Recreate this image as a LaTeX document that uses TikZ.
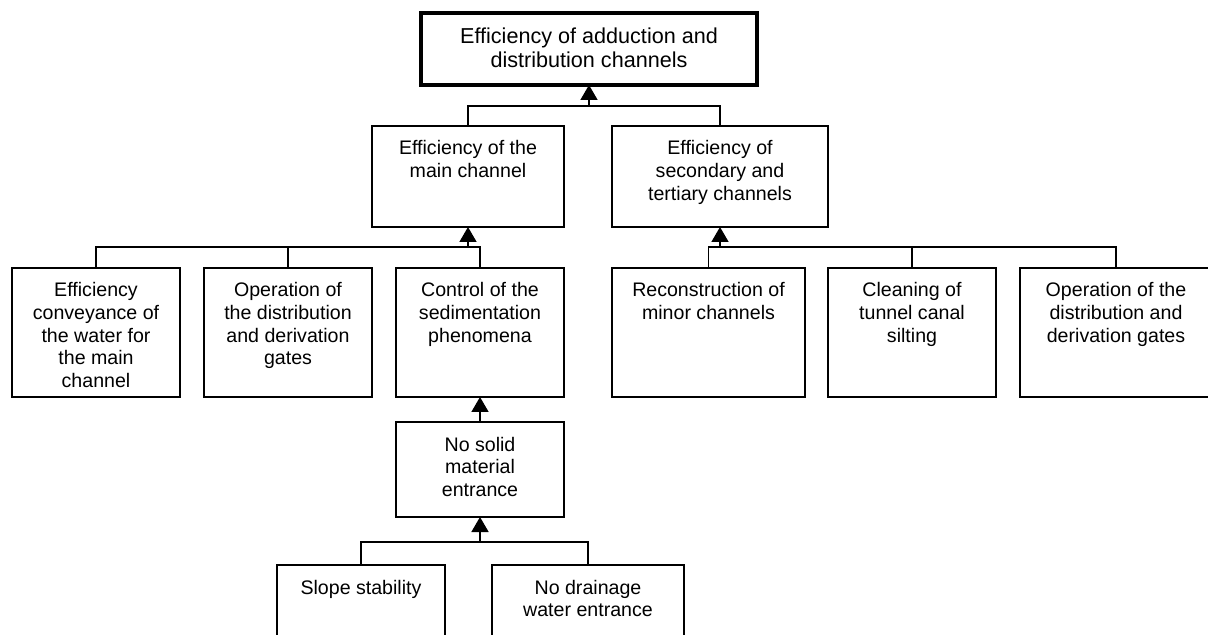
\documentclass[tikz,border=0pt]{standalone}
\usepackage{fontspec}
\setmainfont{Liberation Sans}
\usetikzlibrary{arrows.meta,positioning}

\newcommand{\boxtext}[3]{\parbox[c][#2][t]{#1}{\centering\rule{0pt}{14.5pt}#3}}

\begin{document}
\begin{tikzpicture}[x=0.5pt,y=-0.5pt,line width=0.8pt]
			\tikzstyle{myboxstyle} = [draw, anchor=north, inner sep=0pt, outer sep=0pt, font=\fontsize{9.8}{11.3}\selectfont]
			\tikzstyle{myedgestyle} = [-{Triangle[width=8.5pt,length=7.5pt]}]
			
			\useasboundingbox (0,0) rectangle (1208,635);
			\clip (0,0) rectangle (1208,635);
			
			\node [myboxstyle, line width=1.7pt, font=\fontsize{10.8}{11.8}\selectfont] (T) at (589,13) {\boxtext{168pt}{36pt}{\rule{0pt}{15.5pt}Efficiency of adduction and\\distribution channels}};
			
			\node [myboxstyle] (M) at (468,126) {\boxtext{96pt}{50.5pt}{Efficiency of the\\main channel}};
			\node [myboxstyle] (S) at (720,126) {\boxtext{108pt}{50.5pt}{Efficiency of\\secondary and\\tertiary channels}};
			
			\node [myboxstyle] (E1) at (96,268) {\boxtext{84pt}{64.5pt}{Efficiency\\conveyance of\\the water for\\the main\\channel}};
			\node [myboxstyle] (E2) at (288,268) {\boxtext{84pt}{64.5pt}{Operation of\\the distribution\\and derivation\\gates}};
			\node [myboxstyle] (E3) at (480,268) {\boxtext{84pt}{64.5pt}{Control of the\\sedimentation\\phenomena}};
			
			\node [myboxstyle] (F1) at (708.5,268) {\boxtext{96.5pt}{64.5pt}{Reconstruction of\\minor channels}};
			\node [myboxstyle] (F2) at (912,268) {\boxtext{84pt}{64.5pt}{Cleaning of\\tunnel canal\\silting}};
			\node [myboxstyle] (F3) at (1116,268) {\boxtext{96pt}{64.5pt}{Operation of the\\distribution and\\derivation gates}};
			
			\node [myboxstyle] (N) at (480,422) {\boxtext{84pt}{47.5pt}{No solid\\material\\entrance}};
			
			\node [myboxstyle] (G1) at (361,565) {\boxtext{84pt}{50pt}{Slope stability}};
			\node [myboxstyle] (G2) at (588,565) {\boxtext{96pt}{50pt}{No drainage\\water entrance}};
			
			\coordinate (J0) at (589,106);
			\coordinate (J1) at (468,247);
			\coordinate (J2) at (720,247);
			\coordinate (J3) at (480,542);
			
			\draw (M.north) |- (J0) -| (S.north);
			\draw (E1.north) |- (J1) -| (E3.north);
			\draw (E2.north) -- (E2.north |- J1);
			\draw (F1.north) |- (J2) -| (F3.north);
			\draw (F2.north) -- (F2.north |- J2);
			\draw (G1.north) |- (J3) -| (G2.north);
			
			\draw [myedgestyle] (J0) -- (T.south);
			\draw [myedgestyle] (J1) -- (M.south);
			\draw [myedgestyle] (J2) -- (S.south);
			\draw [myedgestyle] (N.north) -- (E3.south);
			\draw [myedgestyle] (J3) -- (N.south);
			
\end{tikzpicture}
\end{document}
